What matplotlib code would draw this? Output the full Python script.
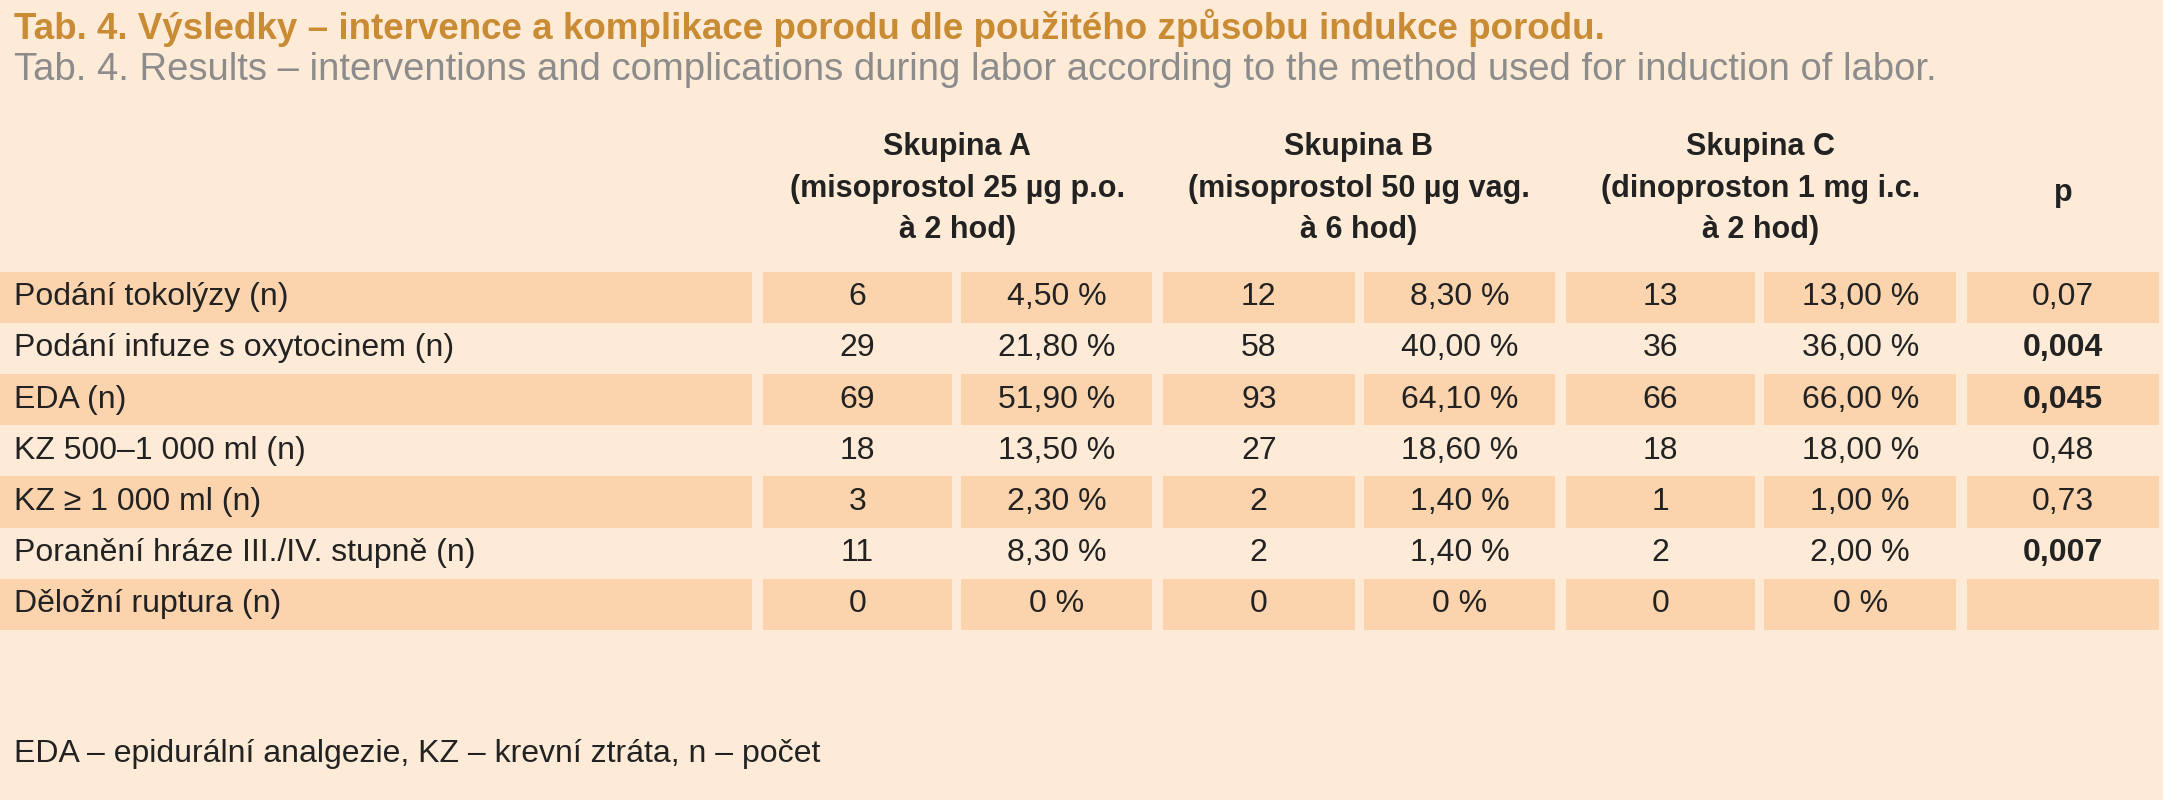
import matplotlib
matplotlib.use("Agg")
import matplotlib.pyplot as plt
from matplotlib.patches import Rectangle

FAM = ['Liberation Sans Narrow', 'Liberation Sans', 'DejaVu Sans']

title_cz = "Tab. 4. Výsledky – intervence a komplikace porodu dle použitého způsobu indukce porodu."
title_en = "Tab. 4. Results – interventions and complications during labor according to the method used for induction of labor."
group_headers = ["Skupina A\n(misoprostol 25 µg p.o.\nà 2 hod)",
                 "Skupina B\n(misoprostol 50 µg vag.\nà 6 hod)",
                 "Skupina C\n(dinoproston 1 mg i.c.\nà 2 hod)"]
rows = ["Podání tokolýzy (n)", "Podání infuze s oxytocinem (n)", "EDA (n)",
        "KZ 500–1 000 ml (n)", "KZ ≥ 1 000 ml (n)", "Poranění hráze III./IV. stupně (n)",
        "Děložní ruptura (n)"]
a_n = ["6", "29", "69", "18", "3", "11", "0"]
a_p = ["4,50 %", "21,80 %", "51,90 %", "13,50 %", "2,30 %", "8,30 %", "0 %"]
b_n = ["12", "58", "93", "27", "2", "2", "0"]
b_p = ["8,30 %", "40,00 %", "64,10 %", "18,60 %", "1,40 %", "1,40 %", "0 %"]
c_n = ["13", "36", "66", "18", "1", "2", "0"]
c_p = ["13,00 %", "36,00 %", "66,00 %", "18,00 %", "1,00 %", "2,00 %", "0 %"]
p_vals = ["0,07", "0,004", "0,045", "0,48", "0,73", "0,007", ""]
p_bold = [False, True, True, False, False, True, False]
footnote = "EDA – epidurální analgezie, KZ – krevní ztráta, n – počet"

BG = "#fdebd7"
SH = "#fbd4ad"
fig = plt.figure(figsize=(21.63, 8), dpi=100, facecolor=BG)
ax = fig.add_axes([0, 0, 1, 1])
ax.set_xlim(0, 1568)
ax.set_ylim(580, 0)
ax.axis('off')

ax.text(10, 20, title_cz, family=FAM, fontsize=26.5, fontweight='bold', color="#c98b34", va='center')
ax.text(10, 51, title_en, family=FAM, fontsize=27.5, color="#8c8c8c", va='center')

cols = [(10, 545), (553, 690), (697, 835), (843, 982), (989, 1127), (1135, 1272), (1279, 1418), (1426, 1565)]
for i, g in enumerate(group_headers):
    x = (cols[1 + 2 * i][0] + cols[2 + 2 * i][1]) / 2
    ax.text(x, 137, g, family=FAM, fontsize=22, fontweight='bold', color="#222222",
            ha='center', va='center', linespacing=1.5)
ax.text((cols[7][0] + cols[7][1]) / 2, 140, "p", family=FAM, fontsize=22, fontweight='bold',
        color="#222222", ha='center', va='center')

top = 197
rh = 37.1
FS = 23
for r in range(len(rows)):
    y0 = top + r * rh
    yc = y0 + rh / 2
    if r % 2 == 0:
        for (x0, x1) in cols:
            xs = x0 if x0 > 10 else 0
            ax.add_patch(Rectangle((xs, y0), x1 - xs, rh, color=SH, lw=0))
    ax.text(10, yc, rows[r], family=FAM, fontsize=FS, color="#222222", va='center')
    vals = [a_n[r], a_p[r], b_n[r], b_p[r], c_n[r], c_p[r]]
    for k, v in enumerate(vals):
        x0, x1 = cols[k + 1]
        ax.text((x0 + x1) / 2, yc, v, family=FAM, fontsize=FS, color="#222222", ha='center', va='center')
    x0, x1 = cols[7]
    ax.text((x0 + x1) / 2, yc, p_vals[r], family=FAM, fontsize=FS, color="#222222",
            ha='center', va='center', fontweight='bold' if p_bold[r] else 'normal')

ax.text(10, 547, footnote, family=FAM, fontsize=FS, color="#222222", va='center')
fig.savefig("out.png", dpi=100, facecolor=BG)
